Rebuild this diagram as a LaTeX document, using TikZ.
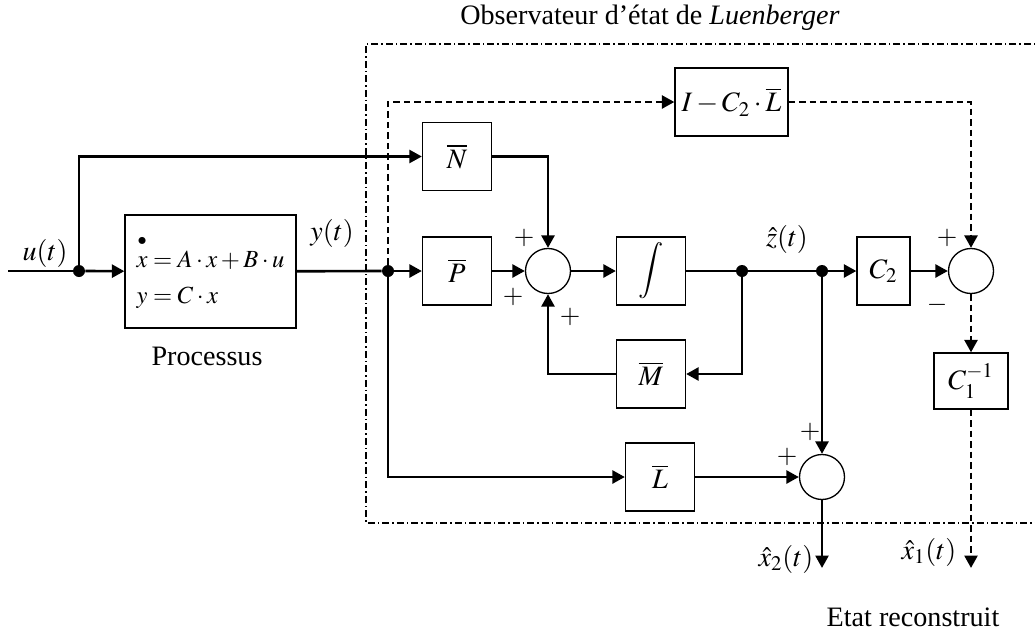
\documentclass[tikz,border=0pt]{standalone}
\usepackage{amsmath}
\usepackage{mathptmx}
\usepackage[no-math]{fontspec}
\setmainfont{Liberation Serif}
\usetikzlibrary{arrows.meta,positioning,calc}
\tikzset{
  block/.style={
    draw,
    line width=0.75pt,
    minimum width=1.38cm,
    minimum height=1.36cm,
    inner sep=2pt,
    fill=white
  },
  sumnode/.style={
    draw,
    circle,
    line width=0.75pt,
    minimum size=0.9cm,
    inner sep=0pt
  },
  dot/.style={circle,fill,inner sep=0pt,minimum size=0.24cm},
  sign/.style={inner sep=0pt,font=\fontsize{15}{18}\selectfont},
  lbl/.style={inner sep=0pt},
  wire/.style={line width=1.5pt},
  arrow/.style={-{Triangle[length=0.25cm,width=0.26cm]},line width=1.5pt},
  dasharrow/.style={arrow,dash pattern=on 0.13cm off 0.08cm},
  frame/.style={line width=1pt,dash pattern=on 0.14cm off 0.06cm on 0.03cm off 0.06cm}
}
\newcommand{\xdotted}{\overset{\raisebox{4pt}{$\scriptstyle\bullet$}}{x}}

\begin{document}
\begin{tikzpicture}[font=\fontsize{16}{19}\selectfont]
\useasboundingbox (0,0) rectangle (20.7,12.6);

% frame of the observer
\draw[frame] (20.9,11.72) -- (7.32,11.72) -- (7.32,2.14) -- (20.9,2.14);
\node (title) at (13.0,12.24) {Observateur d'état de \textit{Luenberger}};

% process
\coordinate (uin) at (0.16,7.18);
\node[lbl] (ulab) at (0.9,7.54) {$u(t)$};
\node[dot] (ju) at (1.58,7.18) {};
\node[block,minimum width=3.42cm,minimum height=2.26cm,align=left,
      font=\fontsize{14}{18}\selectfont] (proc) at (4.21,7.17)
  {$\xdotted=A\cdot x+B\cdot u$\\[2pt]$y=C\cdot x$};
\node (proclab) at (4.14,5.48) {Processus};
\node[lbl] (ylab) at (6.64,7.94) {$y(t)$};
\node[dot] (jy) at (7.76,7.18) {};

% observer blocks
\node[block] (N) at (9.14,9.47) {$\overline{N}$};
\node[block] (P) at (9.14,7.18) {$\overline{P}$};
\node[sumnode] (s1) at (10.96,7.18) {};
\node[block] (int) at (13.02,7.18) {$\displaystyle\int$};
\node[block] (M) at (13.02,5.12) {$\overline{M}$};
\node[dot] (jz1) at (14.84,7.18) {};
\node[dot] (jz2) at (16.44,7.18) {};
\node[lbl] (zlab) at (15.74,7.82) {$\hat{z}(t)$};
\node[block,minimum width=1.06cm] (C2) at (17.67,7.18) {$C_2$};
\node[sumnode] (s2) at (19.42,7.18) {};
\node[block,minimum width=1.48cm,minimum height=1.12cm] (C1) at (19.42,4.98) {$C_1^{-1}$};
\node[block,minimum width=2.26cm] (IL) at (14.63,10.56) {$I-C_2\cdot\overline{L}$};
\node[block] (L) at (13.2,3.06) {$\overline{L}$};
\node[sumnode] (s3) at (16.44,3.06) {};

% signs
\node[sign] (p1a) at (10.48,7.84) {$+$};
\node[sign] (p1b) at (10.26,6.66) {$+$};
\node[sign] (p1c) at (11.4,6.26) {$+$};
\node[sign] (p2a) at (18.94,7.84) {$+$};
\node[sign] (m2b) at (18.74,6.5) {$-$};
\node[sign] (p3a) at (16.2,3.96) {$+$};
\node[sign] (p3b) at (15.74,3.46) {$+$};

% outputs
\coordinate (x2end) at (16.44,1.24);
\coordinate (x1end) at (19.42,1.24);
\node[lbl] (x2lab) at (15.72,1.42) {$\hat{x}_2(t)$};
\node[lbl] (x1lab) at (18.58,1.56) {$\hat{x}_1(t)$};
\node (etat) at (18.26,0.26) {Etat reconstruit};

% connectors
\draw[wire] (uin) -- (ju);
\draw[arrow] (ju) -- (proc);
\draw[arrow] (ju) |- (N);
\draw[wire] (proc) -- (jy);
\draw[arrow] (jy) -- (P);
\draw[arrow] (P) -- (s1);
\draw[arrow] (N) -| (s1);
\draw[arrow] (s1) -- (int);
\draw[wire] (int) -- (jz1) -- (jz2);
\draw[arrow] (jz1) |- (M);
\draw[arrow] (M) -| (s1);
\draw[arrow] (jz2) -- (C2);
\draw[arrow] (C2) -- (s2);
\draw[dasharrow] (jy) |- (IL);
\draw[dasharrow] (IL) -| (s2);
\draw[dasharrow] (s2) -- (C1);
\draw[dasharrow] (C1) -- (x1end);
\draw[arrow] (jy) |- (L);
\draw[arrow] (L) -- (s3);
\draw[arrow] (jz2) -- (s3);
\draw[arrow] (s3) -- (x2end);

\end{tikzpicture}
\end{document}
